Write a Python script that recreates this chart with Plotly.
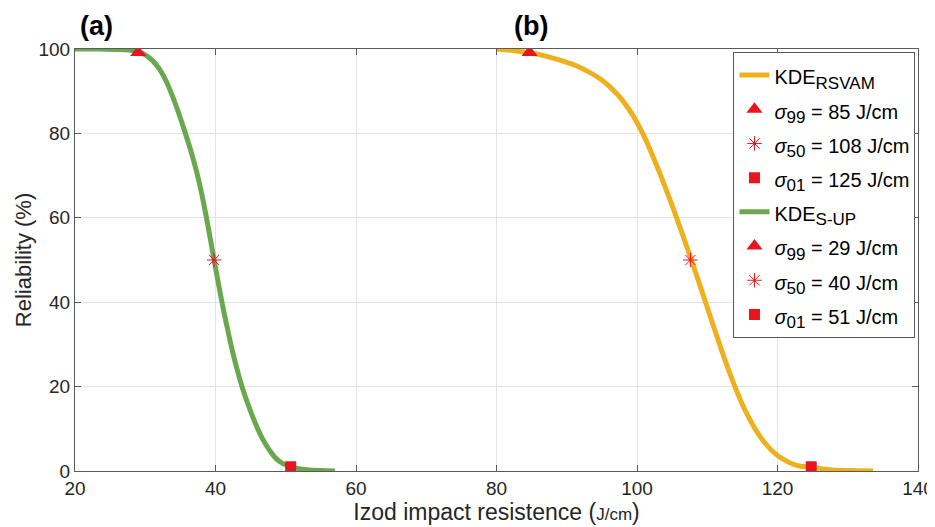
import plotly.graph_objects as go

# S-UP curve (green)
sup_x = [20, 23, 26, 28, 29.0, 30.0, 31.0, 32.0, 33.0, 34.0, 34.8, 35.6, 36.5, 37.3, 38.0, 38.6, 39.2, 39.8, 40.5, 41.1, 41.8, 42.5, 43.2, 43.9, 44.8, 45.8, 46.7, 47.7, 48.6, 49.6, 51.0, 53.0, 55, 57.0]
sup_y = [100, 100, 99.9, 99.7, 99.3, 98.6, 97.3, 95.3, 92.3, 88.3, 84.6, 80.6, 75.8, 71.0, 66.0, 61.0, 55.6, 50.0, 43.7, 38.5, 33.0, 27.8, 23.3, 19.3, 15.0, 10.8, 7.6, 4.9, 3.0, 1.75, 0.85, 0.3, 0.1, 0]
# RSVAM curve (yellow)
rsv_x = [80, 82.5, 84.7, 87, 89.5, 91.5, 93.3, 94.8, 96.1, 97.5, 98.9, 100.0, 101.1, 102.7, 104.6, 106.3, 107.5, 108.5, 109.4, 111.3, 113.2, 115.5, 117.9, 120.3, 122.7, 124.8, 127.4, 130, 133.6]
rsv_y = [100, 99.6, 99.1, 98.3, 97.1, 95.9, 94.4, 92.9, 91.1, 88.7, 85.6, 82.6, 79.0, 72.8, 64.7, 56.9, 51.2, 46.3, 41.8, 32.3, 23.2, 14.0, 7.3, 3.3, 1.35, 0.9, 0.3, 0.1, 0]

# Characteristic points (positions, labels as stated)
rsv_pts_x = [84.7, 107.6, 124.8]
rsv_labels = [85, 108, 125]
sup_pts_x = [29.0, 39.8, 50.7]
sup_labels = [29, 40, 51]
pts_y = [99.2, 50, 1]
pts_sub = ["99", "50", "01"]

YELLOW = "#EDB120"
GREEN = "#6AA84F"
RED = "#E8141E"

fig = go.Figure()

def lg(s):
    return f"<span style='font-size:20px'>{s}</span>"

def add_group(name, cx, cy, color, px, labels):
    fig.add_trace(go.Scatter(x=cx, y=cy, mode="lines", line=dict(color=color, width=5, shape="spline"),
                             name=lg(name)))
    symbols = ["triangle-up", "asterisk-open", "square"]
    sizes = [14, 12, 11]
    for i in range(3):
        fig.add_trace(go.Scatter(
            x=[px[i]], y=[pts_y[i]], mode="markers",
            marker=dict(symbol=symbols[i], size=sizes[i], color=RED,
                        line=dict(color=RED, width=1 if i == 1 else 0)),
            name=lg(f"<i>σ</i><sub><span style='font-size:17px'>{pts_sub[i]}</span></sub> = {labels[i]} J/cm")))

add_group("KDE<sub><span style='font-size:17px'>RSVAM</span></sub>", rsv_x, rsv_y, YELLOW, rsv_pts_x, rsv_labels)
add_group("KDE<sub><span style='font-size:17px'>S-UP</span></sub>", sup_x, sup_y, GREEN, sup_pts_x, sup_labels)

axis_common = dict(showgrid=True, gridcolor="#E3E3E3", gridwidth=1,
                   showline=True, linecolor="#5A5A5A", linewidth=1, mirror="ticks",
                   ticks="inside", ticklen=6, tickcolor="#5A5A5A", automargin=False,
                   ticklabeloverflow="allow",
                   tickfont=dict(size=19, color="#262626"), zeroline=False)

fig.update_xaxes(range=[20, 140], tickvals=[20, 40, 60, 80, 100, 120, 140],
                 title=dict(text="Izod impact resistence (<span style='font-size:17px'>J/cm</span>)",
                            font=dict(size=23, color="#262626"), standoff=3),
                 **axis_common)
fig.update_yaxes(range=[0, 100], tickvals=[0, 20, 40, 60, 80, 100],
                 title=dict(text="Reliability (%)", font=dict(size=22, color="#262626"), standoff=0),
                 **axis_common)

fig.add_annotation(x=23.1, y=1.055, xref="x", yref="paper", text="<b>(a)</b>", showarrow=False,
                   yanchor="middle", font=dict(size=27, color="black"))
fig.add_annotation(x=84.9, y=1.055, xref="x", yref="paper", text="<b>(b)</b>", showarrow=False,
                   yanchor="middle", font=dict(size=27, color="black"))

# page body has an 8px margin, so the figure is offset by (8, 8) in the window
fig.update_layout(
    width=927, height=519,
    margin=dict(l=67, r=17, t=41, b=56, autoexpand=False),
    plot_bgcolor="white", paper_bgcolor="white",
    font=dict(family="Liberation Sans, Arial, sans-serif", color="#262626"),
    legend=dict(x=0.997, y=0.993, xanchor="right", yanchor="top",
                bgcolor="white", bordercolor="#5A5A5A", borderwidth=1,
                font=dict(size=24, color="black"), tracegroupgap=0,
                itemwidth=30),
    showlegend=True,
)

fig.write_html("out.html")
